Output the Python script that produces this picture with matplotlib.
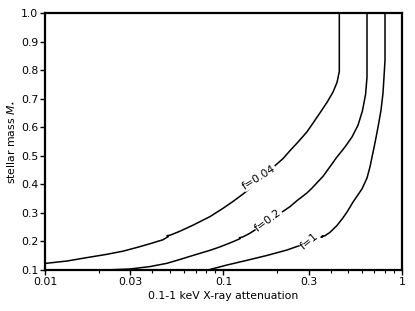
import matplotlib
matplotlib.use("Agg")
import matplotlib.pyplot as plt
from matplotlib.ticker import FixedLocator, LogLocator, NullFormatter

# curve f=0.04
x_f004 = [0.0100, 0.01328, 0.01719, 0.02225, 0.02735, 0.03277, 0.03873, 0.04582,
          0.0490, 0.0482, 0.0505, 0.05706, 0.06745, 0.08403, 0.09936, 0.1130, 0.1286,
          0.1500, 0.1822, 0.2154, 0.2358, 0.2614, 0.2937, 0.3177, 0.3468, 0.3800,
          0.4106, 0.4324, 0.4454, 0.4454]
m_f004 = [0.123, 0.1315, 0.1435, 0.155, 0.166, 0.179, 0.192, 0.206,
          0.217, 0.220, 0.2225, 0.236, 0.257, 0.287, 0.316, 0.340, 0.366,
          0.400, 0.450, 0.490, 0.518, 0.548, 0.584, 0.615, 0.650, 0.687,
          0.723, 0.757, 0.795, 1.0]

# curve f=0.2
x_f02 = [0.0217, 0.02993, 0.03873, 0.04826, 0.05706, 0.06745, 0.08403, 0.09558,
         0.1130, 0.1240, 0.1228, 0.1280, 0.1408, 0.1700, 0.2073, 0.2358, 0.2581,
         0.2937, 0.3133, 0.3609, 0.3952, 0.4324, 0.4795, 0.5248, 0.5669, 0.6000,
         0.6250, 0.6366, 0.6366]
m_f02 = [0.100, 0.1035, 0.112, 0.1235, 0.137, 0.151, 0.169, 0.181,
         0.199, 0.210, 0.213, 0.2155, 0.229, 0.262, 0.298, 0.322, 0.343,
         0.370, 0.387, 0.428, 0.462, 0.496, 0.531, 0.566, 0.607, 0.657,
         0.715, 0.775, 1.0]

# curve f=1
x_f1 = [0.0819, 0.1046, 0.1354, 0.1752, 0.2268, 0.2683, 0.3384, 0.3600, 0.3560,
        0.3700, 0.3952, 0.4324, 0.4672, 0.4920, 0.5316, 0.5967, 0.6366, 0.6620,
        0.6879, 0.7060, 0.7336, 0.7627, 0.7826, 0.7928, 0.8031, 0.8031]
m_f1 = [0.100, 0.1175, 0.134, 0.151, 0.170, 0.186, 0.211, 0.2165, 0.2185,
        0.2200, 0.232, 0.256, 0.283, 0.303, 0.338, 0.384, 0.422, 0.462,
        0.512, 0.546, 0.600, 0.660, 0.720, 0.776, 0.835, 1.0]

labels = ["f=0.04", "f=0.2", "f=1"]
label_x = [0.158, 0.178, 0.305]
label_m = [0.425, 0.275, 0.200]
label_rot = [32, 37, 40]

x_ticks = [0.01, 0.03, 0.1, 0.3, 1]
x_ticklabels = ["0.01", "0.03", "0.1", "0.3", "1"]
y_ticks = [0.1, 0.2, 0.3, 0.4, 0.5, 0.6, 0.7, 0.8, 0.9, 1.0]

fig = plt.figure(figsize=(4.15, 3.11), dpi=100)
ax = fig.add_axes([0.1084, 0.1318, 0.8603, 0.8264])

for xs, ms in [(x_f004, m_f004), (x_f02, m_f02), (x_f1, m_f1)]:
    ax.plot(xs, ms, color="black", lw=1.1, solid_joinstyle="round")

for t, lx, lm, r in zip(labels, label_x, label_m, label_rot):
    ax.text(lx, lm, t, rotation=r, ha="center", va="center", fontsize=7.8,
            rotation_mode="anchor",
            bbox=dict(facecolor="white", edgecolor="none", pad=0.5))

ax.set_xscale("log")
ax.set_xlim(0.01, 1)
ax.set_ylim(0.1, 1.0)
ax.xaxis.set_major_locator(FixedLocator(x_ticks))
ax.set_xticklabels(x_ticklabels)
ax.xaxis.set_minor_locator(LogLocator(base=10, subs=(2, 4, 5, 6, 7, 8, 9)))
ax.xaxis.set_minor_formatter(NullFormatter())
ax.set_yticks(y_ticks)
ax.set_yticklabels([f"{v:.1f}" for v in y_ticks])

for s in ax.spines.values():
    s.set_linewidth(1.6)
ax.tick_params(which="major", direction="out", length=3.5, width=1, labelsize=7.8,
               top=False, right=False, pad=1.5)
ax.tick_params(which="minor", direction="out", length=2, width=0.8, top=False)

ax.set_xlabel("0.1-1 keV X-ray attenuation", fontsize=7.8, labelpad=3)
ax.set_ylabel(r"stellar mass $M_{\star}$", fontsize=7.8, labelpad=3)

fig.savefig("out.png", dpi=100)
